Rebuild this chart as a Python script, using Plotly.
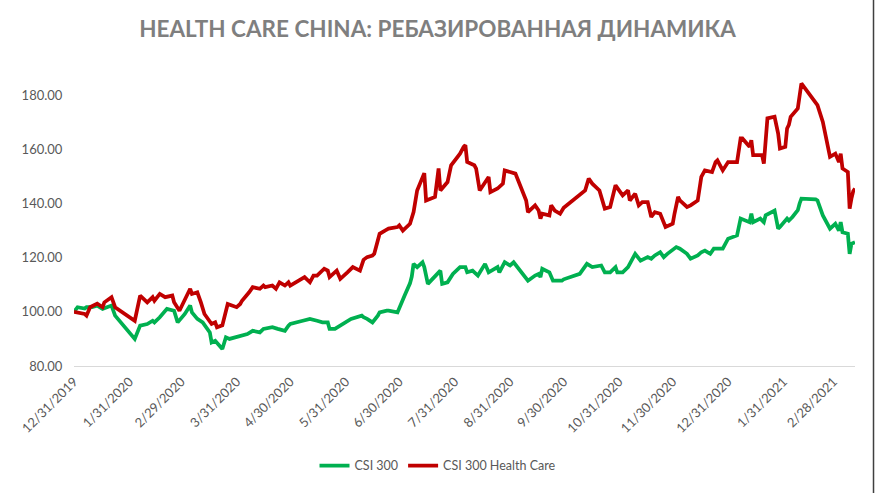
import plotly.graph_objects as go

TITLE = "HEALTH CARE CHINA: РЕБАЗИРОВАННАЯ ДИНАМИКА"
SERIES_NAMES = ["CSI 300", "CSI 300 Health Care"]

csi300_dates = [
    "2019-12-31", "2020-01-02", "2020-01-06", "2020-01-07", "2020-01-10", "2020-01-13",
    "2020-01-16", "2020-01-20", "2020-01-21", "2020-01-23", "2020-02-03", "2020-02-06",
    "2020-02-10", "2020-02-13", "2020-02-14", "2020-02-17", "2020-02-20", "2020-02-21",
    "2020-02-25", "2020-02-27", "2020-03-02", "2020-03-05", "2020-03-06", "2020-03-09",
    "2020-03-12", "2020-03-16", "2020-03-17", "2020-03-19", "2020-03-23", "2020-03-25",
    "2020-03-27", "2020-03-31", "2020-04-02", "2020-04-06", "2020-04-09", "2020-04-13",
    "2020-04-15", "2020-04-20", "2020-04-23", "2020-04-27", "2020-04-29", "2020-04-30",
    "2020-05-07", "2020-05-11", "2020-05-15", "2020-05-18", "2020-05-21", "2020-05-22",
    "2020-05-25", "2020-05-28", "2020-06-01", "2020-06-03", "2020-06-09", "2020-06-10",
    "2020-06-12", "2020-06-15", "2020-06-18", "2020-06-19", "2020-06-23", "2020-06-24",
    "2020-06-29", "2020-06-30", "2020-07-02", "2020-07-03", "2020-07-06", "2020-07-07",
    "2020-07-08", "2020-07-09", "2020-07-10", "2020-07-13", "2020-07-14", "2020-07-16",
    "2020-07-20", "2020-07-23", "2020-07-24", "2020-07-27", "2020-07-30", "2020-08-03",
    "2020-08-06", "2020-08-07", "2020-08-10", "2020-08-13", "2020-08-17", "2020-08-19",
    "2020-08-24", "2020-08-25", "2020-08-28", "2020-08-31", "2020-09-02", "2020-09-04",
    "2020-09-08", "2020-09-10", "2020-09-14", "2020-09-16", "2020-09-17", "2020-09-18",
    "2020-09-22", "2020-09-24", "2020-09-29", "2020-09-30", "2020-10-09", "2020-10-13",
    "2020-10-16", "2020-10-21", "2020-10-23", "2020-10-26", "2020-10-29", "2020-10-30",
    "2020-11-02", "2020-11-05", "2020-11-09", "2020-11-12", "2020-11-16", "2020-11-18",
    "2020-11-20", "2020-11-23", "2020-11-25", "2020-11-27", "2020-12-02", "2020-12-04",
    "2020-12-08", "2020-12-10", "2020-12-14", "2020-12-16", "2020-12-18", "2020-12-21",
    "2020-12-23", "2020-12-25", "2020-12-28", "2020-12-31", "2021-01-05", "2021-01-07",
    "2021-01-12", "2021-01-13", "2021-01-14", "2021-01-18", "2021-01-20", "2021-01-21",
    "2021-01-26", "2021-01-28", "2021-01-29", "2021-02-02", "2021-02-03", "2021-02-05",
    "2021-02-08", "2021-02-09", "2021-02-10", "2021-02-18", "2021-02-19", "2021-02-22",
    "2021-02-24", "2021-02-26", "2021-03-01", "2021-03-03", "2021-03-04", "2021-03-05",
    "2021-03-08", "2021-03-09", "2021-03-10", "2021-03-11", "2021-03-12",
]
csi300_values = [
    100.0, 101.7, 101.2, 101.7, 101.7, 102.3,
    101.1, 102.3, 102.3, 98.6, 90.0, 94.9,
    95.5, 96.7, 96.1, 98.0, 100.4, 101.1,
    100.4, 96.1, 99.2, 102.3, 99.8, 97.4,
    96.1, 92.4, 88.7, 89.3, 86.3, 90.6,
    90.0, 90.6, 91.2, 91.8, 93.0, 92.4,
    93.7, 94.3, 93.7, 93.0, 94.9, 95.5,
    96.7, 97.4, 96.7, 96.1, 96.1, 93.7,
    93.7, 94.9, 96.7, 97.4, 98.6, 98.0,
    97.4, 96.1, 98.6, 99.8, 100.4, 100.4,
    99.8, 101.5, 104.1, 106.0, 110.5, 113.0,
    117.7, 117.0, 116.5, 118.3, 116.5, 110.3,
    113.4, 115.2, 110.3, 110.9, 114.0, 116.5,
    116.5, 114.6, 115.2, 113.4, 117.7, 114.6,
    116.5, 114.6, 118.3, 117.1, 118.3, 116.5,
    113.4, 111.5, 113.4, 114.0, 112.8, 115.9,
    114.6, 111.5, 111.5, 112.0, 114.0, 117.7,
    116.5, 117.1, 114.6, 114.6, 116.5, 114.6,
    114.6, 116.5, 121.4, 118.9, 120.2, 119.6,
    120.8, 122.0, 120.2, 121.4, 123.9, 123.3,
    121.4, 119.6, 120.8, 122.0, 122.6, 121.4,
    123.3, 123.3, 123.3, 127.0, 128.2, 134.4,
    133.1, 136.2, 133.1, 134.4, 133.1, 135.6,
    137.4, 130.7, 131.3, 134.4, 133.7, 135.0,
    137.5, 140.0, 141.8, 141.5, 141.1, 135.6,
    133.1, 130.7, 132.5, 130.0, 133.1, 129.4,
    128.8, 121.4, 125.1, 125.4, 125.7,
]

hc_dates = [
    "2019-12-31", "2020-01-06", "2020-01-07", "2020-01-09", "2020-01-13", "2020-01-16",
    "2020-01-17", "2020-01-20", "2020-01-21", "2020-01-23", "2020-02-03", "2020-02-06",
    "2020-02-10", "2020-02-13", "2020-02-14", "2020-02-17", "2020-02-20", "2020-02-24",
    "2020-02-25", "2020-02-28", "2020-03-03", "2020-03-05", "2020-03-06", "2020-03-09",
    "2020-03-11", "2020-03-13", "2020-03-17", "2020-03-19", "2020-03-20", "2020-03-23",
    "2020-03-26", "2020-03-31", "2020-04-02", "2020-04-03", "2020-04-07", "2020-04-09",
    "2020-04-13", "2020-04-15", "2020-04-16", "2020-04-20", "2020-04-22", "2020-04-24",
    "2020-04-27", "2020-04-29", "2020-04-30", "2020-05-06", "2020-05-08", "2020-05-11",
    "2020-05-13", "2020-05-15", "2020-05-19", "2020-05-21", "2020-05-22", "2020-05-26",
    "2020-05-28", "2020-06-01", "2020-06-02", "2020-06-04", "2020-06-08", "2020-06-09",
    "2020-06-10", "2020-06-12", "2020-06-15", "2020-06-16", "2020-06-18", "2020-06-19",
    "2020-06-22", "2020-06-24", "2020-06-29", "2020-06-30", "2020-07-02", "2020-07-06",
    "2020-07-08", "2020-07-10", "2020-07-14", "2020-07-15", "2020-07-20", "2020-07-21",
    "2020-07-22", "2020-07-23", "2020-07-27", "2020-07-29", "2020-08-03", "2020-08-05",
    "2020-08-06", "2020-08-07", "2020-08-11", "2020-08-12", "2020-08-14", "2020-08-19",
    "2020-08-20", "2020-08-24", "2020-08-27", "2020-08-28", "2020-09-03", "2020-09-09",
    "2020-09-10", "2020-09-14", "2020-09-16", "2020-09-17", "2020-09-18", "2020-09-22",
    "2020-09-23", "2020-09-25", "2020-09-28", "2020-09-30", "2020-10-09", "2020-10-12",
    "2020-10-14", "2020-10-16", "2020-10-20", "2020-10-23", "2020-10-26", "2020-10-29",
    "2020-11-02", "2020-11-05", "2020-11-06", "2020-11-09", "2020-11-11", "2020-11-13",
    "2020-11-16", "2020-11-18", "2020-11-20", "2020-11-23", "2020-11-26", "2020-11-30",
    "2020-12-01", "2020-12-03", "2020-12-04", "2020-12-08", "2020-12-10", "2020-12-14",
    "2020-12-16", "2020-12-18", "2020-12-22", "2020-12-24", "2020-12-25", "2020-12-28",
    "2020-12-31", "2021-01-05", "2021-01-07", "2021-01-08", "2021-01-12", "2021-01-13",
    "2021-01-14", "2021-01-19", "2021-01-20", "2021-01-21", "2021-01-22", "2021-01-26",
    "2021-01-28", "2021-01-29", "2021-02-01", "2021-02-02", "2021-02-03", "2021-02-04",
    "2021-02-08", "2021-02-10", "2021-02-18", "2021-02-19", "2021-02-22", "2021-02-25",
    "2021-02-26", "2021-03-01", "2021-03-03", "2021-03-04", "2021-03-05", "2021-03-08",
    "2021-03-09", "2021-03-10", "2021-03-11", "2021-03-12",
]
hc_values = [
    100.0, 99.2, 98.6, 101.7, 103.0, 101.7,
    103.5, 104.9, 105.4, 101.7, 96.7, 106.0,
    103.5, 105.4, 104.1, 106.6, 105.4, 106.0,
    103.5, 100.4, 105.4, 108.5, 106.6, 107.2,
    103.5, 99.2, 95.5, 96.1, 94.3, 95.0,
    102.9, 101.7, 102.9, 104.1, 107.2, 109.1,
    108.5, 109.7, 109.1, 109.7, 108.5, 110.9,
    109.7, 110.9, 109.7, 112.2, 112.8, 110.9,
    113.4, 113.4, 115.9, 115.2, 112.8, 115.2,
    112.2, 114.6, 115.2, 116.5, 115.2, 117.1,
    119.2, 120.2, 120.8, 121.4, 126.3, 128.8,
    130.0, 130.7, 131.3, 131.9, 130.0, 132.5,
    136.8, 144.8, 151.2, 141.1, 142.4, 149.2,
    152.9, 144.8, 147.9, 154.1, 158.4, 160.9,
    161.5, 155.3, 154.1, 152.9, 144.8, 149.8,
    144.2, 145.5, 147.3, 152.2, 151.0, 141.1,
    136.8, 139.3, 137.4, 134.4, 136.2, 135.6,
    139.3, 137.4, 136.2, 138.4, 143.5, 144.8,
    149.2, 147.3, 144.8, 138.1, 138.7, 146.7,
    143.0, 144.8, 141.1, 143.6, 139.3, 140.5,
    140.5, 135.0, 136.8, 136.2, 131.3, 132.5,
    136.2, 142.4, 141.1, 138.7, 139.3, 141.1,
    149.8, 152.2, 151.6, 155.3, 155.9, 152.2,
    155.3, 155.3, 164.0, 164.0, 160.9, 163.3,
    157.8, 157.8, 154.7, 162.7, 171.4, 172.0,
    165.8, 160.3, 160.9, 167.7, 169.0, 172.0,
    175.1, 184.3, 177.0, 176.3, 170.1, 159.0,
    157.2, 158.4, 155.3, 158.4, 152.9, 151.6,
    138.1, 141.8, 144.5, 145.5,
]

tick_dates = [
    "2019-12-31", "2020-01-31", "2020-02-29", "2020-03-31", "2020-04-30", "2020-05-31",
    "2020-06-30", "2020-07-31", "2020-08-31", "2020-09-30", "2020-10-31", "2020-11-30",
    "2020-12-31", "2021-01-31", "2021-02-28",
]
tick_labels = [
    "12/31/2019", "1/31/2020", "2/29/2020", "3/31/2020", "4/30/2020", "5/31/2020",
    "6/30/2020", "7/31/2020", "8/31/2020", "9/30/2020", "10/31/2020", "11/30/2020",
    "12/31/2020", "1/31/2021", "2/28/2021",
]
y_ticks = [80, 100, 120, 140, 160, 180]
y_tick_labels = ["80.00", "100.00", "120.00", "140.00", "160.00", "180.00"]

FONT = "Lato, 'Open Sans', sans-serif"
GREY = "#595959"

fig = go.Figure()
fig.add_trace(go.Scatter(
    x=csi300_dates, y=csi300_values, name=SERIES_NAMES[0], mode="lines",
    line=dict(color="#00B050", width=3.75),
))
fig.add_trace(go.Scatter(
    x=hc_dates, y=hc_values, name=SERIES_NAMES[1], mode="lines",
    line=dict(color="#C00000", width=3.75),
))

fig.update_layout(
    width=875, height=493,
    paper_bgcolor="white", plot_bgcolor="white",
    margin=dict(l=74, r=20, t=68, b=127, autoexpand=False),
    title=dict(
        text="<b>" + TITLE + "</b>", x=0.5, xanchor="center",
        y=0.94, yanchor="middle", yref="container",
        font=dict(family=FONT, size=22.5, color="#7F7F7F"),
    ),
    showlegend=True,
    legend=dict(
        orientation="h", xref="container", x=0.5, xanchor="center",
        yref="container", y=0.055, yanchor="middle",
        font=dict(family=FONT, size=12.5, color=GREY),
        itemwidth=30, tracegroupgap=0,
    ),
    font=dict(family=FONT, color=GREY),
    shapes=[dict(
        type="line", xref="paper", yref="paper",
        x0=1.0237, x1=1.0237, y0=-1.5, y1=1.5,
        line=dict(color="#404040", width=1.5),
    )],
)
fig.update_xaxes(
    type="date", range=["2019-12-31", "2021-03-12"], automargin=False,
    tickmode="array", tickvals=tick_dates, ticktext=tick_labels, tickangle=-45,
    tickfont=dict(family=FONT, size=13, color=GREY),
    showgrid=False, zeroline=False,
    showline=True, linecolor="#D9D9D9", linewidth=1,
    ticks="outside", ticklen=2, tickcolor="rgba(0,0,0,0)",
)
fig.update_yaxes(
    range=[80, 190], automargin=False,
    tickmode="array", tickvals=y_ticks, ticktext=y_tick_labels,
    tickfont=dict(family=FONT, size=13, color=GREY),
    showgrid=False, zeroline=False, showline=False,
    ticks="outside", ticklen=8, tickcolor="rgba(0,0,0,0)",
)

fig.write_html(
    "out.html",
    config={"displayModeBar": False},
    post_script="document.body.style.margin='0';document.body.style.padding='0';",
)
